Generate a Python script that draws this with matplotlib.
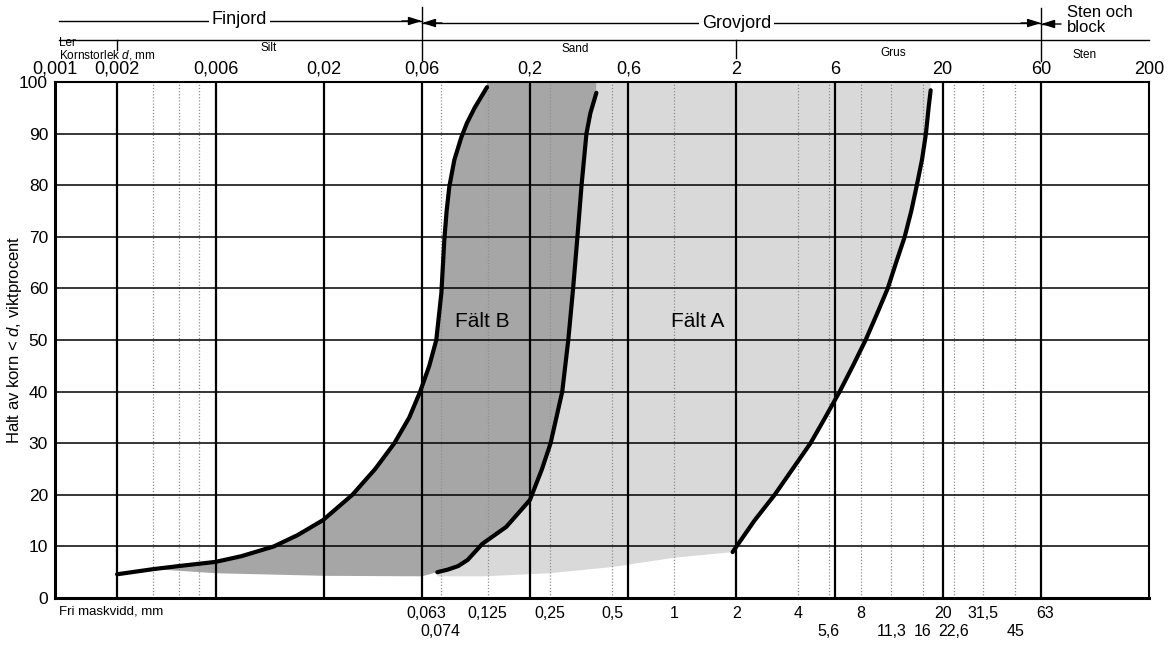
"""Kornfördelningsdiagram med Fält A och Fält B."""

import matplotlib.pyplot as plt

plt.rcParams["font.family"] = ["Liberation Sans", "DejaVu Sans"]
plt.rcParams["mathtext.fontset"] = "custom"
plt.rcParams["mathtext.rm"] = "Liberation Sans"
plt.rcParams["mathtext.it"] = "Liberation Sans:italic"

# kornstorlek (mm) på övre axeln
top_ticks = [0.001, 0.002, 0.006, 0.02, 0.06, 0.2, 0.6, 2, 6, 20, 60, 200]
major_lines = [0.002, 0.006, 0.02, 0.06, 0.2, 0.6, 2, 6, 20, 60]
dotted_lines = [0.003, 0.004, 0.005, 0.074, 0.125, 0.25, 0.5, 1, 4, 5.6, 8, 11.3, 16, 22.6, 31.5, 45]

# fri maskvidd (mm) på nedre axeln, två rader
sieve_row1 = [0.063, 0.125, 0.25, 0.5, 1, 2, 4, 8, 20, 31.5, 63]
sieve_row2 = [0.074, 5.6, 11.3, 16, 22.6, 45]

# Fält B, fin gräns
b_fine_d = [0.002, 0.003, 0.004, 0.006, 0.008, 0.0115, 0.015, 0.0199, 0.0276, 0.0356,
            0.0441, 0.0521, 0.0588, 0.0651, 0.0704, 0.0745, 0.077, 0.079, 0.0814, 0.0861,
            0.0931, 0.099, 0.108, 0.124]
b_fine_p = [4.6, 5.6, 6.2, 7.0, 8.1, 10.0, 12.2, 15.1, 20, 25,
            30, 35, 40, 45, 50, 59.1, 69.4, 75, 79.7, 84.9,
            89.3, 92, 95, 99]

# Fält B, grov gräns
b_coarse_d = [0.0712, 0.08, 0.09, 0.1, 0.1177, 0.1538, 0.2001, 0.229, 0.252, 0.287,
              0.307, 0.324, 0.340, 0.356, 0.376, 0.393, 0.42]
b_coarse_p = [5.0, 5.5, 6.2, 7.4, 10.5, 13.8, 19.0, 25, 30, 40,
              50, 60, 70, 80, 90, 94, 97.9]

# Fält A, grov gräns
a_coarse_d = [1.92, 2.45, 3.07, 3.75, 4.58, 5.4, 6.34, 7.35, 8.47, 9.6,
              10.84, 11.9, 13.1, 14.1, 15.0, 15.9, 16.6, 17.1, 17.5]
a_coarse_p = [8.9, 15, 20, 25, 30, 35, 40, 45, 50, 55,
              60, 65, 70, 75, 80, 85, 90, 95, 98.4]

# undre kant på det grå fältet
lower_d = [0.003, 0.006, 0.02, 0.06, 0.0712, 0.12, 0.25, 0.5, 1.0, 1.92]
lower_p = [5.6, 4.8, 4.3, 4.2, 4.2, 4.2, 4.8, 6.0, 7.8, 8.9]

DARK = "#a6a6a6"
LIGHT = "#d9d9d9"


def fmt(v):
    return f"{v:g}".replace(".", ",")


def yf(py):
    """Pixelrad i figuren -> axelbråkdel (axeln går från rad 82 till 598)."""
    return (598 - py) / 516


fig = plt.figure(figsize=(11.73, 6.46), dpi=100)
ax = fig.add_axes([55 / 1173, 48 / 646, 1094 / 1173, 516 / 646])
ax.set_xscale("log")
ax.set_xlim(0.001, 200)
ax.set_ylim(0, 100)

# fälten
light_x = a_coarse_d + [a_coarse_d[-1], b_coarse_d[-1]] + b_coarse_d[::-1] + lower_d[4:]
light_y = a_coarse_p + [100, 100] + b_coarse_p[::-1] + lower_p[4:]
ax.fill(light_x, light_y, color=LIGHT, lw=0, zorder=1)

dark_x = b_fine_d[1:] + [b_fine_d[-1], b_coarse_d[-1]] + b_coarse_d[::-1] + lower_d[:4][::-1]
dark_y = b_fine_p[1:] + [100, 100] + b_coarse_p[::-1] + lower_p[:4][::-1]
ax.fill(dark_x, dark_y, color=DARK, lw=0, zorder=1.1)

# rutnät
for v in dotted_lines:
    ax.axvline(v, color="#8f8f8f", lw=0.9, ls=(0, (1, 1.5)), zorder=1.5)
for v in major_lines:
    ax.axvline(v, color="black", lw=1.6, zorder=2)
for p in range(10, 100, 10):
    ax.axhline(p, color="black", lw=1.1, zorder=2)

# kurvor
for xs, ys in [(b_fine_d, b_fine_p), (b_coarse_d, b_coarse_p), (a_coarse_d, a_coarse_p)]:
    ax.plot(xs, ys, color="black", lw=3, solid_capstyle="round", solid_joinstyle="round",
            zorder=3)

ax.text(0.118, 53.5, "Fält B", fontsize=15, ha="center", va="center", zorder=4)
ax.text(1.30, 53.5, "Fält A", fontsize=15, ha="center", va="center", zorder=4)

# axlar
ax.set_xticks(top_ticks, [fmt(v) for v in top_ticks])
ax.minorticks_off()
ax.xaxis.tick_top()
ax.set_yticks(range(0, 101, 10))
ax.tick_params(axis="both", length=0)
ax.tick_params(axis="x", pad=3, labelsize=13)
ax.tick_params(axis="y", pad=5, labelsize=12.5)
for side, lw in [("left", 2.2), ("bottom", 2.2), ("top", 1.5), ("right", 1.5)]:
    ax.spines[side].set_linewidth(lw)
ax.set_ylabel("Halt av korn < $d$, viktprocent", fontsize=12)
ax.yaxis.set_label_coords(-0.028, 0.5)

trans = ax.get_xaxis_transform()

# nedre axelns maskvidder
ax.text(0.00105, yf(611), "Fri maskvidd, mm", transform=trans, fontsize=9.5, va="center")
for v in sieve_row1:
    ax.text(v, yf(613), fmt(v), transform=trans, fontsize=11.5, ha="center", va="center")
for v in sieve_row2:
    ax.text(v, yf(631), fmt(v), transform=trans, fontsize=11.5, ha="center", va="center")

# jordartsindelning ovanför diagrammet
line_kw = dict(transform=trans, color="black", lw=1.0, clip_on=False)
ax.plot([0.00105, 0.06], [yf(21), yf(21)], **line_kw)
ax.plot([0.06, 60], [yf(23), yf(23)], **line_kw)
ax.plot([60, 68], [yf(24), yf(24)], **line_kw)
ax.plot([0.00105, 200], [yf(40), yf(40)], **line_kw)
ax.plot([0.06, 0.06], [yf(7), yf(60)], **line_kw)
ax.plot([60, 60], [yf(8), yf(61)], **line_kw)
ax.plot([2, 2], [yf(40), yf(58)], **line_kw)
ax.plot([0.002, 0.002], [yf(40), yf(50)], **line_kw)

arrow_kw = dict(arrowstyle="-|>,head_length=0.8,head_width=0.25", color="black", lw=1.0,
                shrinkA=0, shrinkB=0)
for tip, tail, py in [(0.06, 0.048, 21), (0.06, 0.075, 23), (60, 48, 23), (60, 75, 24)]:
    ax.annotate("", xy=(tip, yf(py)), xytext=(tail, yf(py)), xycoords=trans,
                textcoords=trans, arrowprops=arrow_kw, annotation_clip=False)

box = dict(facecolor="white", edgecolor="none", pad=2)
ax.text(0.0078, yf(20), "Finjord", transform=trans, fontsize=13, ha="center", va="center", bbox=box)
ax.text(2.0, yf(23), "Grovjord", transform=trans, fontsize=13, ha="center", va="center", bbox=box)
ax.text(80, yf(20), "Sten och\nblock", transform=trans, fontsize=12, ha="left", va="center",
        linespacing=1.0)

small = dict(transform=trans, fontsize=8.5, va="center")
ax.text(0.00105, yf(43.5), "Ler", **small)
ax.text(0.00105, yf(54.5), "Kornstorlek $d$, mm", **small)
ax.text(0.0109, yf(48), "Silt", ha="center", **small)
ax.text(0.33, yf(49), "Sand", ha="center", **small)
ax.text(11.5, yf(53), "Grus", ha="center", **small)
ax.text(85, yf(55), "Sten", ha="left", **small)

fig.savefig("out.png", dpi=100)
